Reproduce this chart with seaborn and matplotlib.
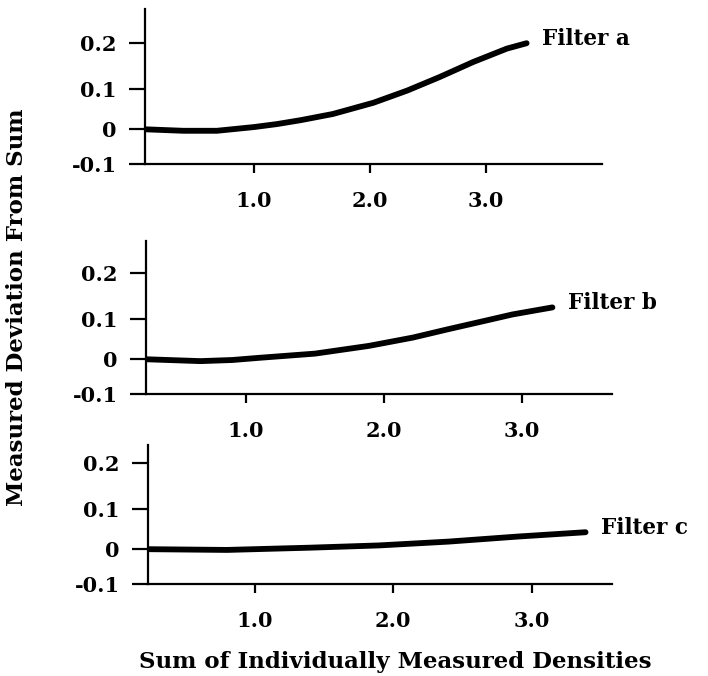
import numpy as np
import pandas as pd
import matplotlib
matplotlib.use('Agg')
import matplotlib.pyplot as plt
import seaborn as sns

sum_a = [0.06, 0.39, 0.68, 1.00, 1.20, 1.40, 1.68, 2.03, 2.32, 2.60, 2.89, 3.18, 3.35]
dev_a = [0.0, -0.004, -0.004, 0.006, 0.014, 0.024, 0.040, 0.068, 0.097, 0.128, 0.161, 0.189, 0.200]

sum_b = [0.275, 0.67, 0.90, 1.10, 1.50, 1.89, 2.21, 2.46, 2.70, 2.93, 3.22]
dev_b = [0.0, -0.005, -0.002, 0.004, 0.015, 0.035, 0.056, 0.076, 0.094, 0.111, 0.127]

sum_c = [0.23, 0.80, 1.40, 1.90, 2.40, 2.90, 3.39]
dev_c = [0.0, -0.002, 0.004, 0.010, 0.020, 0.033, 0.044]

filtros = ['Filter a', 'Filter b', 'Filter c']
x_ticks = [1.0, 2.0, 3.0]
x_labels = ['1.0', '2.0', '3.0']
y_ticks = [-0.1, 0.0, 0.1, 0.2]
y_labels = ['-0.1', '0', '0.1', '0.2']

sns.set_style('white')
plt.rcParams['font.family'] = ['DejaVu Serif']
plt.rcParams['font.weight'] = 'bold'
plt.rcParams['text.color'] = 'black'

fig = plt.figure(figsize=(7.08, 6.76), dpi=100)
W, H = 708, 676

# cajas de cada panel en pixeles (izq, der, arriba, abajo)
cajas = [(145, 602, 9, 164), (146, 612, 241, 394), (148, 612, 445, 584)]
xlims = [(0.06, 4.0), (0.275, 3.652), (0.231, 3.581)]
ytops = [0.266, 0.262, 0.235]
datos = [(sum_a, dev_a), (sum_b, dev_b), (sum_c, dev_c)]

k = 1.42  # la escala vertical del dibujo original no es lineal

for (l, r, t, b), xl, yt, (xs, ys), nombre in zip(cajas, xlims, ytops, datos, filtros):
    ax = fig.add_axes([l / W, 1 - b / H, (r - l) / W, (b - t) / H])
    ax.set_yscale('function', functions=(lambda v: np.exp(k * v), lambda v: np.log(v) / k))
    df = pd.DataFrame({'x': xs, 'y': ys})
    sns.lineplot(x='x', y='y', data=df, ax=ax, color='black', linewidth=4.2,
                 solid_capstyle='round', solid_joinstyle='round', sort=False)
    ax.set_xlim(*xl)
    ax.set_ylim(-0.1, yt)
    ax.set_xticks(x_ticks)
    ax.set_xticklabels(x_labels)
    ax.set_yticks(y_ticks)
    ax.set_yticklabels(y_labels)
    ax.minorticks_off()
    ax.set_xlabel('')
    ax.set_ylabel('')
    for s in ['top', 'right']:
        ax.spines[s].set_visible(False)
    for s in ['left', 'bottom']:
        ax.spines[s].set_linewidth(1.6)
        ax.spines[s].set_color('black')
    ax.tick_params(axis='y', left=True, direction='out', length=11.5, width=1.6, pad=9,
                   labelsize=15, colors='black')
    ax.tick_params(axis='x', bottom=True, direction='out', length=6.5, width=1.6, pad=13,
                   labelsize=15, colors='black')
    ax.annotate(nombre, xy=(xs[-1], ys[-1]), xytext=(11, 3), textcoords='offset points',
                va='center', ha='left', fontsize=15.5, fontweight='bold', color='black',
                annotation_clip=False)

fig.text(17 / W, 1 - 307 / H, 'Measured Deviation From Sum', rotation=90,
         ha='center', va='center', fontsize=16.5, fontweight='bold', color='black')
fig.text(395 / W, 1 - 662 / H, 'Sum of Individually Measured Densities',
         ha='center', va='center', fontsize=16.5, fontweight='bold', color='black')

plt.savefig('out.png', dpi=100)
